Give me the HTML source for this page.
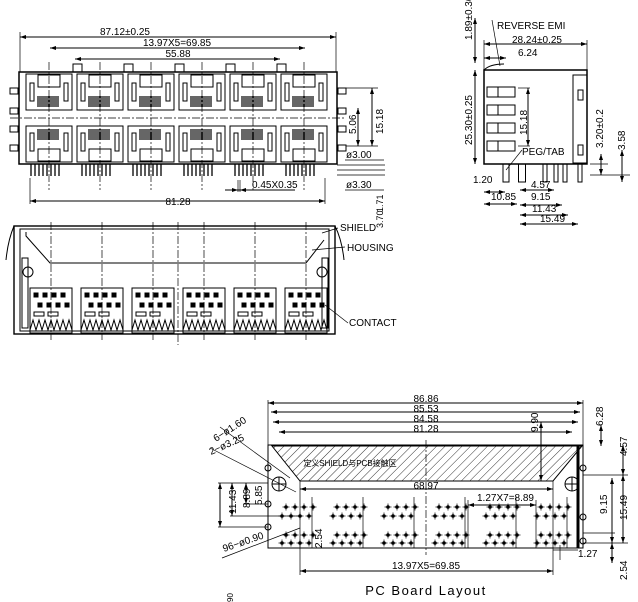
<!DOCTYPE html>
<html><head><meta charset="utf-8"><style>
html,body{margin:0;padding:0;background:#fff;}
svg{display:block;}
text{font-family:"Liberation Sans",sans-serif;fill:#000;}
</style></head><body>
<svg id="s" width="638" height="602" viewBox="0 0 638 602" xmlns="http://www.w3.org/2000/svg" stroke="#000" fill="none" stroke-width="1">
<defs>
<pattern id="h" width="6" height="6" patternUnits="userSpaceOnUse" patternTransform="rotate(45)">
<line x1="0" y1="0" x2="0" y2="6" stroke="#000" stroke-width="0.8"/></pattern>
</defs>
<g id="g"></g>
<!-- static text -->
<g stroke="none" font-size="10">
<text x="125" y="35" text-anchor="middle">87.12±0.25</text>
<text x="177" y="46" text-anchor="middle">13.97X5=69.85</text>
<text x="178" y="57" text-anchor="middle">55.88</text>
<text x="178" y="205" text-anchor="middle">81.28</text>
<text x="252" y="188">0.45X0.35</text>
<text x="346" y="158">ø3.00</text>
<text x="346" y="188">ø3.30</text>
<text transform="translate(356,134) rotate(-90)">5.06</text>
<text transform="translate(383,134) rotate(-90)">15.18</text>
<text transform="translate(383,212) rotate(-90)" font-size="9">1.71</text>
<text transform="translate(383,228) rotate(-90)" font-size="9">3.70</text>
<text x="497" y="29">REVERSE  EMI</text>
<text x="512" y="43">28.24±0.25</text>
<text x="518" y="56">6.24</text>
<text transform="translate(472,40) rotate(-90)">1.89±0.30</text>
<text transform="translate(472,145) rotate(-90)">25.30±0.25</text>
<text transform="translate(527,135) rotate(-90)">15.18</text>
<text x="522" y="155">PEG/TAB</text>
<text transform="translate(603,148) rotate(-90)">3.20±0.2</text>
<text transform="translate(625,150) rotate(-90)">3.58</text>
<text x="473" y="183">1.20</text>
<text x="531" y="188">4.57</text>
<text x="491" y="200">10.85</text>
<text x="531" y="200">9.15</text>
<text x="532" y="212">11.43</text>
<text x="540" y="222">15.49</text>
<text x="340" y="231">SHIELD</text>
<text x="347" y="251">HOUSING</text>
<text x="349" y="326">CONTACT</text>
<text x="426" y="402" text-anchor="middle">86.86</text>
<text x="426" y="412" text-anchor="middle">85.53</text>
<text x="426" y="422" text-anchor="middle">84.58</text>
<text x="426" y="432" text-anchor="middle">81.28</text>
<text x="426" y="489" text-anchor="middle">68.97</text>
<text x="477" y="501">1.27X7=8.89</text>
<text x="578" y="557">1.27</text>
<text x="426" y="569" text-anchor="middle">13.97X5=69.85</text>
<text x="426" y="595" text-anchor="middle" font-size="13" letter-spacing="1.5">PC  Board  Layout</text>
<text x="350" y="466" font-size="8" text-anchor="middle">定义SHIELD与PCB接触区</text>
<text transform="translate(538,432) rotate(-90)">9.90</text>
<text transform="translate(603,426) rotate(-90)">6.28</text>
<text transform="translate(627,456) rotate(-90)">4.57</text>
<text transform="translate(607,514) rotate(-90)">9.15</text>
<text transform="translate(627,520) rotate(-90)">15.49</text>
<text transform="translate(627,580) rotate(-90)">2.54</text>
<text transform="translate(236,514) rotate(-90)">11.43</text>
<text transform="translate(250,508) rotate(-90)">8.89</text>
<text transform="translate(262,505) rotate(-90)">5.85</text>
<text transform="translate(322,548) rotate(-90)">2.54</text>
<text transform="translate(216,442) rotate(-33)">6−ø1.60</text>
<text transform="translate(211,455) rotate(-24)">2−ø3.25</text>
<text transform="translate(224,552) rotate(-19)">96−ø0.90</text>
<text transform="translate(233,602) rotate(-90)" font-size="8">90</text>
</g>
</svg>
<script>
var g=document.getElementById('g'),o='';
function L(a,b,c,d,e){o+='<line x1="'+a+'" y1="'+b+'" x2="'+c+'" y2="'+d+'"'+(e?' '+e:'')+'/>';}
function R(x,y,w,h,e){o+='<rect x="'+x+'" y="'+y+'" width="'+w+'" height="'+h+'"'+(e?' '+e:'')+'/>';}
function C(x,y,r,e){o+='<circle cx="'+x+'" cy="'+y+'" r="'+r+'"'+(e?' '+e:'')+'/>';}
function A(x,y,d){o+='<path d="M'+x+' '+y+'l'+(d*6)+' -2v4z" fill="#000" stroke="none"/>';}
function HD(x1,x2,y){L(x1,y,x2,y);A(x1,y,1);A(x2,y,-1);}
function VD(x,y1,y2){L(x,y1,x,y2);o+='<path d="M'+x+' '+y1+'l-2 6h4z" fill="#000" stroke="none"/><path d="M'+x+' '+y2+'l-2 -6h4z" fill="#000" stroke="none"/>';}
var dash='stroke-dasharray="8,2,2,2" stroke-width="0.7"';
// FRONT VIEW
R(19,72,318,92,'stroke-width="1.5"');
for(var i=0;i<6;i++){var x=26+i*51;
 R(x,74,46,36);R(x+12,75,22,12);R(x+4,83,4,18);R(x+38,83,4,18);
 for(var k=0;k<11;k++)L(x+12+k*2,96,x+12+k*2,107,'stroke-width="1.2"');
 R(x,126,46,36);R(x+12,149,22,12);R(x+4,133,4,18);R(x+38,133,4,18);
 for(var k=0;k<11;k++)L(x+12+k*2,129,x+12+k*2,140,'stroke-width="1.2"');
 for(var k=0;k<8;k++)L(x+5+k*4,164,x+5+k*4,176,'stroke-width="1.3"');
 L(x+23,62,x+23,190,dash);
}
for(var i=0;i<5;i++){R(73+i*51,64,9,8);}
L(10,118,345,118,dash);
[88,108,126,145].forEach(function(y){R(10,y,8,6);R(338,y,8,6);});
HD(20,336,37);L(20,32,20,72,'stroke-width="0.7"');L(336,32,336,72,'stroke-width="0.7"');
HD(50,305,48);HD(75,280,59);HD(30,325,201);L(30,178,30,204,'stroke-width="0.7"');L(325,178,325,204,'stroke-width="0.7"');
VD(372,88,146);VD(358,108,146);L(346,88,378,88,'stroke-width="0.7"');L(346,146,378,146,'stroke-width="0.7"');
L(337,165,385,165,'stroke-width="0.7"');L(337,170,385,170,'stroke-width="0.7"');L(337,175,385,175,'stroke-width="0.7"');
L(345,160,384,160,'stroke-width="0.7"');L(345,190,384,190,'stroke-width="0.7"');
L(225,190,295,190);A(238,190,-1);A(240,190,1);L(238,180,238,192,'stroke-width="0.7"');L(240,180,240,192,'stroke-width="0.7"');
// SIDE VIEW
R(484,70,103,94,'stroke-width="1.5"');R(573,75,14,88);R(578,90,5,10);R(578,145,5,10);
[87,105,123,141].forEach(function(y){R(487,y,28,10);L(498,y,498,y+10);});
o+='<path d="M484 70 Q490 64 504 64"/>';
VD(528,88,146);L(518,88,530,88,'stroke-width="0.7"');L(518,146,530,146,'stroke-width="0.7"');
[[506,6],[522,7],[545,4],[556,4],[565,4],[580,4]].forEach(function(p){R(p[0]-p[1]/2,164,p[1],18);});
HD(484,587,44);HD(484,506,58);VD(475,18,63);VD(475,70,164);
L(484,40,484,70,'stroke-width="0.7"');L(587,40,587,70,'stroke-width="0.7"');
L(590,164,608,164,'stroke-width="0.7"');L(590,175,630,175,'stroke-width="0.7"');VD(601,154,175);VD(622,150,182);
HD(484,505,192);HD(484,517,204);HD(520,554,190);HD(520,562,205);HD(520,568,215);HD(520,578,224);
L(492,20,500,66,'stroke-width="0.7"');L(522,150,506,170,'stroke-width="0.7"');
// BOTTOM VIEW
R(14,226,321,108,'stroke-width="1.4"');R(20,229,309,102);
o+='<path d="M14 226 Q8 240 6 260"/><path d="M335 226 Q342 240 344 260"/>';
o+='<path d="M26 232 L26 236 L50 263 L306 263 L324 240"/>';
R(22,258,6,70);R(322,258,6,70);C(28,272,5);C(322,272,5);
for(var i=0;i<6;i++){var x=30+i*51;R(x,288,42,45);
 for(var k=0;k<4;k++){R(x+4+k*9,293,4,4,'fill="#000"');R(x+8+k*9,303,4,4,'fill="#000"');}
 R(x+4,312,10,4);R(x+18,312,10,4);
 o+='<path d="M'+x+' 330 l3 -10 l3 10 l3 -10 l3 10 l3 -10 l3 10 l3 -10 l3 10 l3 -10 l3 10 l3 -10 l3 10 l3 -10 l3 10"/>';
 L(x+21,222,x+21,340,dash);
}
L(178,222,178,345,dash);
L(322,233,338,228,'stroke-width="0.7"');L(312,250,345,247,'stroke-width="0.7"');L(325,305,348,323,'stroke-width="0.7"');
// PCB
R(268,445,315,103);
o+='<path d="M272 446 L582 446 L553 481 L300 481 Z" fill="url(#h)"/>';
L(578,446,578,548,'stroke-width="3"');
HD(268,583,403);HD(271,580,412);HD(273,578,422);HD(279,572,432);
[403,412,422,432].forEach(function(y,i){});
L(268,400,268,445,'stroke-width="0.7"');L(583,400,583,445,'stroke-width="0.7"');
HD(300,553,489);HD(300,553,571);L(300,481,300,575,'stroke-width="0.7"');L(553,481,553,575,'stroke-width="0.7"');
L(426,440,426,555,dash);
VD(541,422,481);VD(601,425,446);VD(623,445,475);VD(612,478,543);VD(623,475,543);VD(612,543,563);
L(583,475,628,475,'stroke-width="0.7"');L(583,543,628,543,'stroke-width="0.7"');L(583,533,615,533,'stroke-width="0.7"');
C(268,468,3);C(268,504,3);C(268,527,3);C(583,468,3);C(583,517,3);C(583,541,3);
C(279,484,7);L(272,484,286,484);L(279,477,279,491);C(572,484,7);L(565,484,579,484);L(572,477,572,491);
VD(220,483,527);VD(232,483,516);VD(246,483,504);L(218,483,268,483,'stroke-width="0.7"');L(218,527,268,527,'stroke-width="0.7"');L(230,516,300,516,'stroke-width="0.7"');L(244,504,268,504,'stroke-width="0.7"');
L(220,427,290,478,'stroke-width="0.7"');L(210,448,296,492,'stroke-width="0.7"');L(222,558,300,528,'stroke-width="0.7"');
for(var i=0;i<6;i++){var x=282+i*51;
 [[507,4],[516,0],[535,4],[543,0]].forEach(function(r){for(var k=0;k<4;k++){var cx=x+r[1]+k*9,cy=r[0];
  o+='<circle cx="'+cx+'" cy="'+cy+'" r="1.8" fill="#000" stroke="none"/>';L(cx-3.5,cy,cx+3.5,cy,'stroke-width="0.7"');L(cx,cy-3.5,cx,cy+3.5,'stroke-width="0.7"');}});
 L(x+30,497,x+30,548,'stroke-width="0.7"');
}
HD(468,536,505);L(468,500,468,548,'stroke-width="0.7"');L(536,500,536,548,'stroke-width="0.7"');
L(553,550,578,550,'stroke-width="0.7"');L(560,545,560,560,'stroke-width="0.7"');
g.innerHTML=o;
</script>
</body></html>
